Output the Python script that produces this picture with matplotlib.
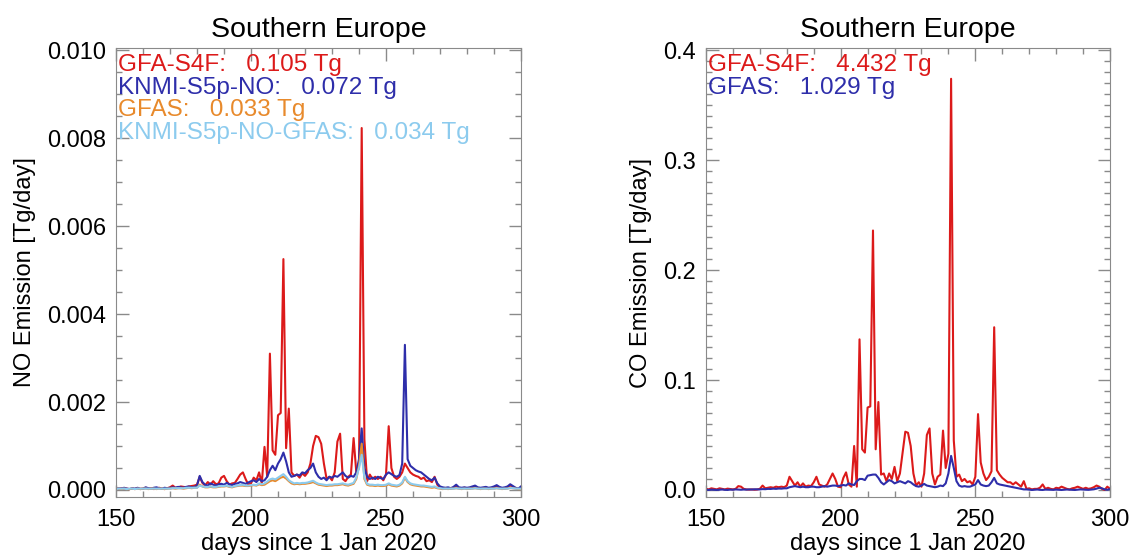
#
# southern_europe_emis.py
#

import numpy as np
from matplotlib import pyplot as plot
from matplotlib.ticker import MultipleLocator, FormatStrFormatter

plot.rcParams['font.family'] = ['Liberation Sans', 'DejaVu Sans']

# days 150 .. 300
days = np.arange(150, 301)

# NO emission, units of 1e-4 Tg/day
noGfa = [
  0.3, 0.2, 0.4, 0.2, 0.3, 0.2, 0.3, 0.2, 0.4, 0.3,
  0.3, 0.5, 0.3, 0.4, 0.2, 0.3, 0.5, 0.3, 0.2, 0.4,
  0.6, 1.0, 0.5, 0.6, 0.8, 0.7, 0.6, 0.8, 0.9, 1.0,
  1.2, 3.0, 1.6, 1.0, 1.8, 1.2, 2.0, 1.3, 1.5, 2.8,
  3.2, 2.0, 1.2, 1.5, 1.6, 2.5, 3.5, 4.0, 2.5, 1.2,
  1.5, 2.8, 2.2, 4.0, 1.5, 9.8, 3.0, 31.0, 9.0, 8.0,
  17.0, 17.5, 52.5, 9.5, 18.5, 4.0, 3.2, 3.5, 2.8, 3.8,
  3.2, 4.0, 6.0, 10.0, 12.3, 12.0, 10.5, 6.0, 2.5, 3.0,
  2.2, 4.0, 11.0, 12.8, 2.5, 2.0, 3.0, 3.5, 11.8, 4.0,
  5.0, 82.3, 11.5, 2.0, 3.5, 2.5, 3.0, 2.5, 3.0, 2.2,
  3.5, 14.5, 5.0, 3.0, 2.5, 3.0, 4.0, 6.0, 5.0, 4.0,
  3.5, 3.2, 3.0, 2.5, 2.8, 2.0, 2.2, 1.8, 3.0, 1.2,
  0.5, 0.4, 0.3, 0.4, 0.3, 0.5, 0.8, 0.4, 0.3, 0.5,
  0.4, 0.3, 0.5, 0.7, 0.4, 0.3, 0.4, 0.5, 0.3, 0.4,
  0.6, 0.8, 0.5, 0.4, 0.3, 0.5, 1.0, 0.7, 0.4, 0.2,
  0.5]

noKnmi = [
  0.2, 0.4, 0.3, 0.5, 0.3, 0.2, 0.4, 0.3, 0.5, 0.2,
  0.3, 0.6, 0.4, 0.3, 0.5, 0.6, 0.4, 0.3, 0.5, 0.4,
  0.5, 0.6, 0.5, 0.7, 0.6, 0.5, 0.7, 0.8, 0.6, 0.7,
  1.0, 3.2, 1.8, 1.2, 1.0, 1.5, 1.2, 1.0, 1.3, 1.4,
  1.2, 1.6, 1.3, 1.1, 1.4, 1.5, 1.8, 1.6, 1.4, 1.7,
  2.0, 2.2, 1.8, 2.5, 2.0, 2.2, 3.0, 4.5, 5.5, 4.5,
  6.0, 7.0, 8.5, 6.5, 4.0, 3.0, 3.2, 3.5, 3.3, 4.0,
  3.8, 4.5, 5.0, 6.0, 4.0, 3.0, 2.5, 2.8, 2.2, 3.0,
  2.8, 3.2, 3.0, 3.5, 4.0, 3.2, 2.8, 3.2, 3.0, 4.0,
  7.0, 14.0, 5.0, 3.0, 2.5, 2.8, 2.5, 3.0, 2.7, 2.5,
  3.5, 4.0, 3.6, 3.2, 3.0, 3.4, 6.0, 33.0, 7.0, 5.5,
  5.0, 4.5, 4.2, 4.0, 3.5, 3.0, 2.5, 2.2, 2.8, 1.5,
  0.8, 0.6, 0.5, 0.6, 0.4, 0.7, 1.2, 0.6, 0.5, 0.6,
  0.5, 0.6, 0.8, 1.0, 0.6, 0.5, 0.6, 0.7, 0.5, 0.6,
  0.8, 1.1, 0.7, 0.5, 0.6, 0.8, 1.3, 0.9, 0.5, 0.3,
  0.8]

noGfas = [
  0.2, 0.3, 0.2, 0.3, 0.2, 0.2, 0.3, 0.2, 0.3, 0.2,
  0.3, 0.3, 0.2, 0.3, 0.3, 0.2, 0.3, 0.3, 0.2, 0.3,
  0.3, 0.4, 0.3, 0.4, 0.4, 0.3, 0.4, 0.5, 0.4, 0.5,
  0.5, 1.2, 0.8, 0.6, 0.6, 0.7, 0.6, 0.6, 0.7, 0.8,
  0.8, 0.9, 0.7, 0.6, 0.8, 0.9, 1.0, 1.0, 0.9, 0.9,
  1.0, 1.1, 1.0, 1.3, 1.1, 1.2, 1.6, 2.0, 2.2, 2.0,
  2.4, 2.8, 3.0, 2.6, 2.0, 1.5, 1.3, 1.4, 1.3, 1.4,
  1.4, 1.5, 1.6, 1.8, 1.5, 1.2, 1.1, 1.0, 0.9, 1.0,
  1.0, 1.1, 1.1, 1.2, 1.3, 1.1, 1.0, 1.2, 1.4, 2.5,
  5.5, 10.5, 2.5, 1.2, 1.0, 1.0, 0.9, 1.0, 0.9, 0.9,
  1.0, 1.3, 1.0, 0.9, 0.8, 1.0, 1.5, 2.8, 1.8, 1.3,
  1.1, 1.0, 0.9, 0.8, 0.8, 0.7, 0.6, 0.5, 0.6, 0.4,
  0.3, 0.2, 0.3, 0.2, 0.3, 0.3, 0.4, 0.3, 0.2, 0.3,
  0.2, 0.3, 0.3, 0.4, 0.3, 0.2, 0.3, 0.3, 0.2, 0.3,
  0.3, 0.4, 0.3, 0.2, 0.3, 0.3, 0.5, 0.4, 0.3, 0.2,
  0.2]

noKnmiGfas = [
  0.2, 0.3, 0.3, 0.3, 0.2, 0.3, 0.3, 0.2, 0.3, 0.3,
  0.3, 0.3, 0.3, 0.3, 0.3, 0.3, 0.3, 0.3, 0.3, 0.3,
  0.3, 0.4, 0.4, 0.4, 0.4, 0.4, 0.5, 0.5, 0.5, 0.5,
  0.5, 1.0, 0.8, 0.7, 0.7, 0.8, 0.7, 0.7, 0.8, 0.9,
  0.9, 1.0, 0.8, 0.7, 0.9, 1.0, 1.1, 1.2, 1.0, 1.0,
  1.1, 1.2, 1.1, 1.5, 1.3, 1.5, 1.9, 2.4, 2.6, 2.4,
  2.8, 3.2, 3.6, 3.0, 2.2, 1.8, 1.5, 1.6, 1.5, 1.6,
  1.6, 1.7, 1.9, 2.1, 1.7, 1.4, 1.3, 1.2, 1.1, 1.2,
  1.2, 1.3, 1.3, 1.4, 1.5, 1.3, 1.2, 1.4, 1.6, 2.8,
  5.0, 8.0, 2.8, 1.4, 1.2, 1.2, 1.1, 1.2, 1.1, 1.1,
  1.2, 1.5, 1.2, 1.1, 1.0, 1.2, 1.7, 3.0, 2.0, 1.5,
  1.3, 1.2, 1.1, 1.0, 1.0, 0.9, 0.8, 0.7, 0.8, 0.5,
  0.4, 0.3, 0.3, 0.3, 0.3, 0.3, 0.4, 0.3, 0.3, 0.3,
  0.3, 0.3, 0.3, 0.4, 0.3, 0.3, 0.3, 0.3, 0.3, 0.3,
  0.3, 0.4, 0.3, 0.3, 0.3, 0.3, 0.5, 0.4, 0.3, 0.3,
  0.3]

# CO emission, units of 1e-3 Tg/day
coGfa = [
  1.0, 0.5, 1.5, 1.0, 0.5, 1.5, 1.0, 0.5, 1.2, 0.8,
  0.5, 1.0, 3.5, 3.0, 1.0, 0.5, 0.3, 0.5, 0.2, 0.4,
  1.0, 4.0, 1.5, 2.0, 2.5, 2.0, 3.0, 2.5, 3.0, 2.5,
  4.0, 12.0, 8.0, 4.0, 7.0, 3.0, 6.0, 3.0, 4.0, 3.5,
  7.0, 12.0, 5.0, 4.0, 3.0, 5.0, 10.0, 15.0, 10.0, 3.0,
  2.5, 11.0, 16.0, 5.0, 3.0, 40.0, 3.0, 137.0, 37.0, 34.0,
  75.0, 76.0, 236.0, 37.0, 80.0, 14.0, 15.0, 8.0, 15.0, 10.0,
  21.0, 8.0, 15.0, 34.0, 53.0, 52.0, 40.0, 15.0, 4.0, 7.0,
  3.0, 15.0, 50.0, 56.0, 15.0, 5.0, 12.0, 14.0, 54.0, 20.0,
  33.0, 374.0, 45.0, 12.0, 14.0, 8.0, 10.0, 7.0, 8.0, 5.0,
  12.0, 69.0, 25.0, 15.0, 9.0, 12.0, 17.0, 148.0, 18.0, 14.0,
  11.0, 9.0, 7.0, 7.0, 5.0, 7.0, 5.0, 3.0, 8.0, 1.0,
  1.5, 0.5, 1.0, 1.0, 2.0, 5.0, 1.0, 2.0, 1.0, 0.5,
  2.0, 1.5, 3.0, 2.0, 1.0, 0.5, 1.5, 2.0, 3.0, 2.0,
  1.0, 2.0, 1.0, 1.5, 2.5, 4.0, 3.0, 1.0, 0.0, 3.0,
  1.0]

coGfas = [
  0.2, 0.0, 0.3, 0.1, 0.0, 0.2, 0.4, 0.1, 0.0, 0.3,
  0.2, 0.5, 0.3, 0.2, 0.4, 0.3, 0.5, 0.4, 0.6, 0.5,
  0.5, 0.8, 0.7, 1.0, 0.9, 1.2, 1.0, 1.3, 1.2, 1.5,
  1.5, 2.5, 3.0, 3.5, 3.0, 2.5, 3.0, 2.5, 2.5, 3.0,
  3.0, 2.5, 2.5, 3.0, 3.5, 3.0, 3.5, 4.0, 4.0, 3.5,
  4.0, 4.5, 4.0, 6.0, 5.0, 4.5, 8.0, 10.0, 10.0, 9.0,
  13.0, 13.5, 14.0, 14.0, 11.0, 7.0, 5.0, 7.0, 9.0, 8.0,
  6.0, 7.0, 8.0, 7.0, 6.0, 8.0, 7.0, 5.0, 3.5, 3.0,
  4.0, 5.5, 4.0, 3.5, 3.0, 2.5, 3.0, 4.0, 3.5, 6.0,
  15.0, 31.0, 20.0, 8.0, 4.0, 3.0, 3.5, 3.0, 3.0, 4.0,
  5.0, 9.0, 5.0, 4.0, 3.5, 4.0, 7.0, 11.0, 6.0, 5.0,
  4.5, 4.0, 3.5, 3.0, 2.5, 2.0, 1.5, 1.0, 0.5, 0.5,
  0.3, 0.0, 0.2, 0.4, 0.1, 0.0, 0.3, 0.2, 0.0, 0.1,
  0.3, 0.1, 0.0, 0.2, 0.4, 0.2, 0.1, 0.0, 0.3, 0.5,
  0.3, 0.2, 0.1, 0.3, 0.6, 1.2, 2.0, 1.5, 0.5, 0.2,
  0.8]

noLabel = ["GFA-S4F:   0.105 Tg", "KNMI-S5p-NO:   0.072 Tg",
           "GFAS:   0.033 Tg", "KNMI-S5p-NO-GFAS:   0.034 Tg"]
coLabel = ["GFA-S4F:   4.432 Tg", "GFAS:   1.029 Tg"]

red = '#dc1a1a'
navy = '#2e2eaa'
orange = '#e88a2c'
sky = '#8ccbee'
gray = '#8a8a8a'


###############################################################
def SetupAxes(ax, yLim, yMajor, yMinor, yFmt, yLabel):
  ax.set_xlim(150, 300)
  ax.set_ylim(*yLim)
  ax.xaxis.set_major_locator(MultipleLocator(50))
  ax.xaxis.set_minor_locator(MultipleLocator(10))
  ax.yaxis.set_major_locator(MultipleLocator(yMajor))
  ax.yaxis.set_minor_locator(MultipleLocator(yMinor))
  ax.yaxis.set_major_formatter(FormatStrFormatter(yFmt))
  ax.tick_params(which='both', direction='in', top=True, right=True,
                 color=gray, labelsize=17)
  ax.tick_params(which='major', length=9, width=1)
  ax.tick_params(which='minor', length=4.5, width=1)
  ax.tick_params(axis='x', pad=9)
  ax.tick_params(axis='y', pad=7)
  for s in ax.spines.values():
    s.set_color(gray)
  ax.set_title("Southern Europe", fontsize=20.5, pad=8)
  ax.set_xlabel("days since 1 Jan 2020", fontsize=17, labelpad=1)
  ax.set_ylabel(yLabel, fontsize=17, labelpad=8)


def Legend(ax, labels, colors):
  for i, (t, c) in enumerate(zip(labels, colors)):
    ax.text(0.005, 0.962 - i * 0.0505, t, color=c, fontsize=17.5,
            transform=ax.transAxes, ha='left', va='center')


###############################
if __name__ == "__main__":
  fig = plot.figure(figsize=(11.32, 5.58), dpi=100)

  # NO panel
  ax = fig.add_axes([116/1132, 61/558, 405/1132, 449/558])
  lw = 1.5
  ax.plot(days, np.array(noGfa) * 1e-4, color=red, lw=lw)
  ax.plot(days, np.array(noKnmi) * 1e-4, color=navy, lw=lw)
  ax.plot(days, np.array(noGfas) * 1e-4, color=orange, lw=lw)
  ax.plot(days, np.array(noKnmiGfas) * 1e-4, color=sky, lw=lw)
  SetupAxes(ax, (-0.00016, 0.01005), 0.002, 0.0005, '%.3f',
            "NO Emission [Tg/day]")
  Legend(ax, noLabel, [red, navy, orange, sky])

  # CO panel
  ax = fig.add_axes([706/1132, 61/558, 404/1132, 449/558])
  ax.plot(days, np.array(coGfa) * 1e-3, color=red, lw=lw)
  ax.plot(days, np.array(coGfas) * 1e-3, color=navy, lw=lw)
  SetupAxes(ax, (-0.0064, 0.402), 0.1, 0.01, '%.1f',
            "CO Emission [Tg/day]")
  Legend(ax, coLabel, [red, navy])

  plot.savefig('out.png', dpi=100)
